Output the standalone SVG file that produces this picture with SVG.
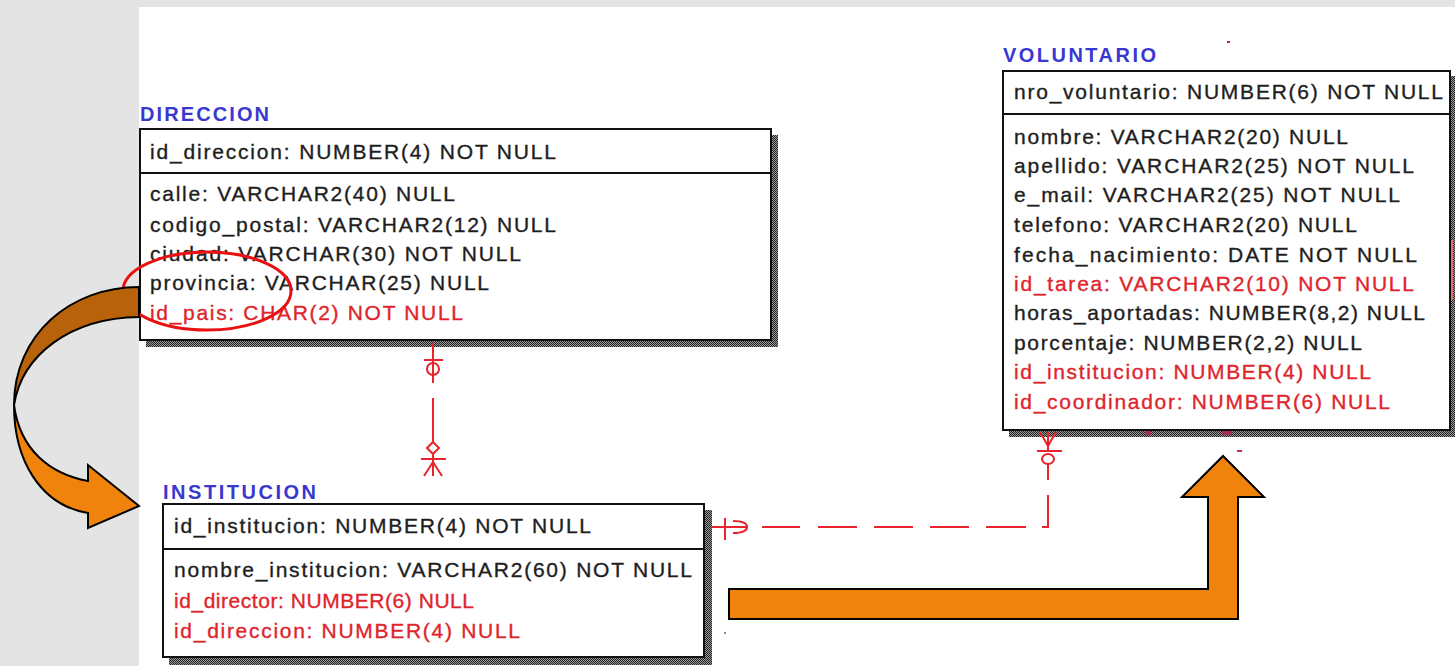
<svg xmlns="http://www.w3.org/2000/svg" width="1455" height="666" viewBox="0 0 1455 666">
<style>
.t{font-family:"Liberation Sans",Arial,sans-serif;font-size:21px;fill:#1e1e1e;stroke:#1e1e1e;stroke-width:0.35}
.fk{fill:#e0242c;stroke:#e0242c}
.lbl{font-family:"Liberation Sans",Arial,sans-serif;font-size:20px;font-weight:bold;fill:#3838d0}
.box{fill:#fff;stroke:#111;stroke-width:2}
.div{stroke:#111;stroke-width:2}
.sh{fill:url(#dith)}
.rel{stroke:#e8242c;stroke-width:2;fill:none}
.arr{stroke:#000;stroke-width:2;stroke-linejoin:miter}
</style>
<defs>
<pattern id="dith" width="2" height="2" patternUnits="userSpaceOnUse">
<rect width="2" height="2" fill="#9a9a9a"/>
<rect width="1" height="1" fill="#222"/>
<rect x="1" y="1" width="1" height="1" fill="#222"/>
</pattern>
</defs>
<rect x="0" y="0" width="1455" height="666" fill="#e4e4e4"/>
<rect x="139" y="7" width="1316" height="659" fill="#ffffff"/>

<g id="DIRECCION">
<text class="lbl" x="140" y="121" textLength="129">DIRECCION</text>
<rect class="sh" x="771" y="135" width="7" height="212"/>
<rect class="sh" x="146" y="340" width="632" height="7"/>
<rect class="box" x="140" y="129" width="631" height="211"/>
<line class="div" x1="140" y1="173" x2="771" y2="173"/>
<text class="t" x="150" y="159" textLength="406">id_direccion: NUMBER(4) NOT NULL</text>
<text class="t" x="150" y="201" textLength="305">calle: VARCHAR2(40) NULL</text>
<text class="t" x="150" y="232" textLength="406">codigo_postal: VARCHAR2(12) NULL</text>
<text class="t" x="150" y="261" textLength="371">ciudad: VARCHAR(30) NOT NULL</text>
<text class="t" x="150" y="290" textLength="339">provincia: VARCHAR(25) NULL</text>
<text class="t fk" x="150" y="320" textLength="313">id_pais: CHAR(2) NOT NULL</text>
</g>

<g id="VOLUNTARIO">
<text class="lbl" x="1003" y="62" textLength="153">VOLUNTARIO</text>
<rect class="sh" x="1450" y="76" width="5" height="361"/>
<rect class="sh" x="1009" y="430" width="446" height="7"/>
<rect class="box" x="1003" y="71" width="447" height="359"/>
<line class="div" x1="1003" y1="114" x2="1450" y2="114"/>
<text class="t" x="1014" y="99" textLength="429">nro_voluntario: NUMBER(6) NOT NULL</text>
<text class="t" x="1014" y="144" textLength="334">nombre: VARCHAR2(20) NULL</text>
<text class="t" x="1014" y="173" textLength="400">apellido: VARCHAR2(25) NOT NULL</text>
<text class="t" x="1014" y="202" textLength="386">e_mail: VARCHAR2(25) NOT NULL</text>
<text class="t" x="1014" y="232" textLength="343">telefono: VARCHAR2(20) NULL</text>
<text class="t" x="1014" y="262" textLength="403">fecha_nacimiento: DATE NOT NULL</text>
<text class="t fk" x="1014" y="291" textLength="400">id_tarea: VARCHAR2(10) NOT NULL</text>
<text class="t" x="1014" y="320" textLength="411">horas_aportadas: NUMBER(8,2) NULL</text>
<text class="t" x="1014" y="350" textLength="348">porcentaje: NUMBER(2,2) NULL</text>
<text class="t fk" x="1014" y="379" textLength="357">id_institucion: NUMBER(4) NULL</text>
<text class="t fk" x="1014" y="409" textLength="376">id_coordinador: NUMBER(6) NULL</text>
</g>

<g id="INSTITUCION">
<text class="lbl" x="163" y="499" textLength="153">INSTITUCION</text>
<rect class="sh" x="704" y="510" width="8" height="155"/>
<rect class="sh" x="169" y="657" width="543" height="8"/>
<rect class="box" x="163" y="504" width="541" height="153"/>
<line class="div" x1="163" y1="549" x2="704" y2="549"/>
<text class="t" x="174" y="533" textLength="417">id_institucion: NUMBER(4) NOT NULL</text>
<text class="t" x="174" y="577" textLength="518">nombre_institucion: VARCHAR2(60) NOT NULL</text>
<text class="t fk" x="174" y="608" textLength="300">id_director: NUMBER(6) NULL</text>
<text class="t fk" x="174" y="638" textLength="346">id_direccion: NUMBER(4) NULL</text>
</g>

<g id="connectors">
<line class="rel" x1="433" y1="343" x2="433" y2="383"/>
<line class="rel" x1="424" y1="360" x2="443" y2="360"/>
<ellipse class="rel" cx="433" cy="369" rx="6" ry="6"/>
<line class="rel" x1="433" y1="398" x2="433" y2="442"/>
<path class="rel" d="M433,442 L439,448 L433,454 L427,448 Z"/>
<line class="rel" x1="421" y1="459" x2="446" y2="459"/>
<line class="rel" x1="433" y1="454" x2="433" y2="476"/>
<line class="rel" x1="433" y1="462" x2="424" y2="476"/>
<line class="rel" x1="433" y1="462" x2="442" y2="476"/>
<line class="rel" x1="712" y1="527" x2="746" y2="527"/>
<line class="rel" x1="725" y1="518" x2="725" y2="540"/>
<path class="rel" d="M733,521 Q747,521 747,527 Q747,533 733,533"/>
<path class="rel" d="M762,527 H800 M818,527 H857 M874,527 H913 M930,527 H969 M986,527 H1026 M1042,527 H1048 V495"/>
<line class="rel" x1="1048" y1="480" x2="1048" y2="464"/>
<ellipse class="rel" cx="1048" cy="459" rx="6" ry="5"/>
<line class="rel" x1="1037" y1="451" x2="1062" y2="451"/>
<line class="rel" x1="1048" y1="451" x2="1048" y2="432"/>
<line class="rel" x1="1048" y1="446" x2="1040" y2="432"/>
<line class="rel" x1="1048" y1="446" x2="1056" y2="432"/>
</g>

<g id="marks">
<rect x="1227" y="41" width="3" height="2" fill="#d02030"/>
<rect x="1237" y="450" width="5" height="2" fill="#c03050"/>
<rect x="1145" y="431" width="6" height="4" fill="#a03050"/>
<rect x="1222" y="431" width="10" height="4" fill="#a03050"/>
<rect x="1451" y="240" width="2" height="60" fill="#e07070"/>
<rect x="724" y="632" width="2" height="2" fill="#888"/>
</g>

<g id="highlight">
<ellipse cx="207" cy="291" rx="84" ry="39" fill="none" stroke="#e81010" stroke-width="3"/>
</g>

<g id="arrow-curved">
<path class="arr" fill="#b8630b" d="M139,287 C70,287 14,335 14,405 C22,355 70,318 139,317 Z"/>
<path class="arr" fill="#f0830c" d="M14,405 C20,450 50,474 88,481 L88,465 L139,506 L88,528 L88,513 C40,505 14,460 14,405 Z"/>
</g>

<g id="arrow-L">
<path class="arr" fill="#f0830c" d="M729,589 L1208,589 L1208,497 L1182,497 L1223,456 L1264,497 L1238,497 L1238,619 L729,619 Z"/>
</g>
</svg>
